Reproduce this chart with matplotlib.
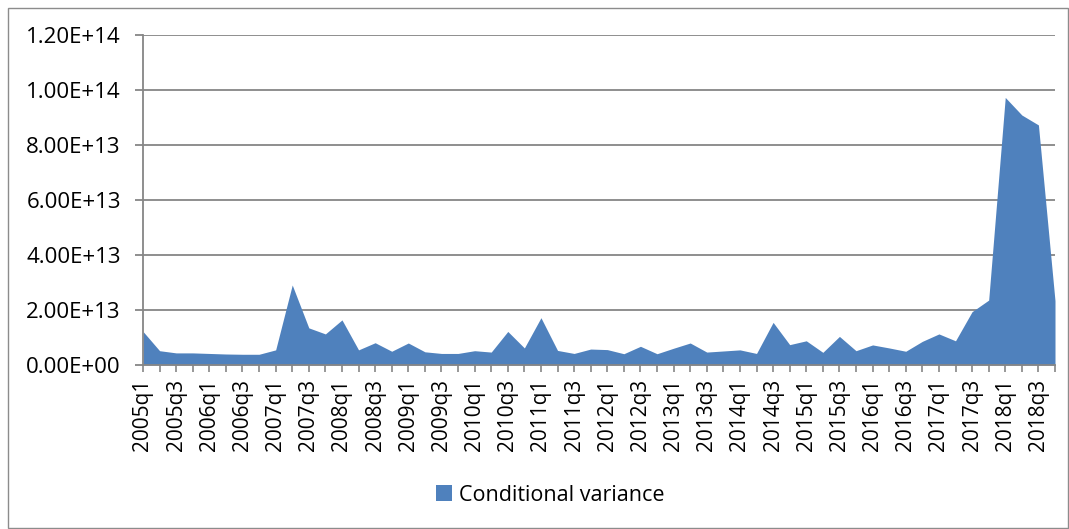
import matplotlib
matplotlib.use("Agg")
import matplotlib.pyplot as plt
from matplotlib.patches import Rectangle
from matplotlib.ticker import FuncFormatter
import numpy as np

# quarters 2005q1 .. 2018q4
quarters = [f"{y}q{q}" for y in range(2005, 2019) for q in range(1, 5)]

# conditional variance
variance = [
    1.22e13, 5.2e12, 4.4e12, 4.4e12, 4.2e12, 4.0e12, 3.9e12, 3.9e12,
    5.5e12, 2.91e13, 1.35e13, 1.13e13, 1.64e13, 5.5e12, 8.1e12, 5.0e12,
    8.0e12, 4.8e12, 4.2e12, 4.2e12, 5.2e12, 4.7e12, 1.22e13, 6.2e12,
    1.72e13, 5.3e12, 4.2e12, 5.8e12, 5.6e12, 4.1e12, 6.8e12, 4.1e12,
    6.1e12, 8.0e12, 4.7e12, 5.1e12, 5.5e12, 4.2e12, 1.55e13, 7.4e12,
    8.8e12, 4.6e12, 1.04e13, 5.2e12, 7.3e12, 6.2e12, 5.0e12, 8.6e12,
    1.13e13, 8.8e12, 1.94e13, 2.36e13, 9.73e13, 9.09e13, 8.73e13, 2.34e13,
]
yticks = [0, 2e13, 4e13, 6e13, 8e13, 1e14, 1.2e14]

plt.rcParams['font.family'] = ['Open Sans', 'DejaVu Sans']

fig = plt.figure(figsize=(10.69, 5.29), dpi=100)
fig.patches.append(Rectangle((8 / 1069, 0.002), 1 - 9 / 1069, 1 - 9 / 529,
                             transform=fig.transFigure, fill=False,
                             edgecolor='#8c8c8c', linewidth=1))

ax = fig.add_axes([143 / 1069, 1 - 365 / 529, 912 / 1069, 330 / 529])
x = np.arange(len(quarters))
ax.fill_between(x, 0, variance, color='#4F81BD', linewidth=0,
                label='Conditional variance')

ax.set_xlim(0, len(quarters) - 1)
ax.set_ylim(0, 1.2e14)
ax.set_yticks(yticks)
ax.yaxis.set_major_formatter(FuncFormatter(lambda v, p: f"{v:.2E}".replace("E+0", "E+") if v else "0.00E+00"))
ax.grid(axis='y', color='#868686', linewidth=1.3)
ax.set_axisbelow(True)

ax.set_xticks(x)
ax.set_xticklabels([q if i % 2 == 0 else '' for i, q in enumerate(quarters)],
                   rotation=90, fontsize=15)
ax.tick_params(axis='x', length=5, color='#868686', width=1.2, pad=5)
ax.tick_params(axis='y', length=6, color='#868686', width=1.3, labelsize=16, pad=10)
for s in ['top', 'right', 'bottom']:
    ax.spines[s].set_visible(False)
ax.spines['left'].set_color('#868686')
ax.spines['left'].set_linewidth(1.3)
ax.axhline(0, color='#868686', linewidth=1.3, clip_on=False)

fig.legend(loc='center', bbox_to_anchor=(550 / 1069, 1 - 495 / 529), frameon=False,
           fontsize=15.5, handlelength=0.75, handleheight=0.75, handletextpad=0.3)

fig.savefig('out.png', dpi=100)
